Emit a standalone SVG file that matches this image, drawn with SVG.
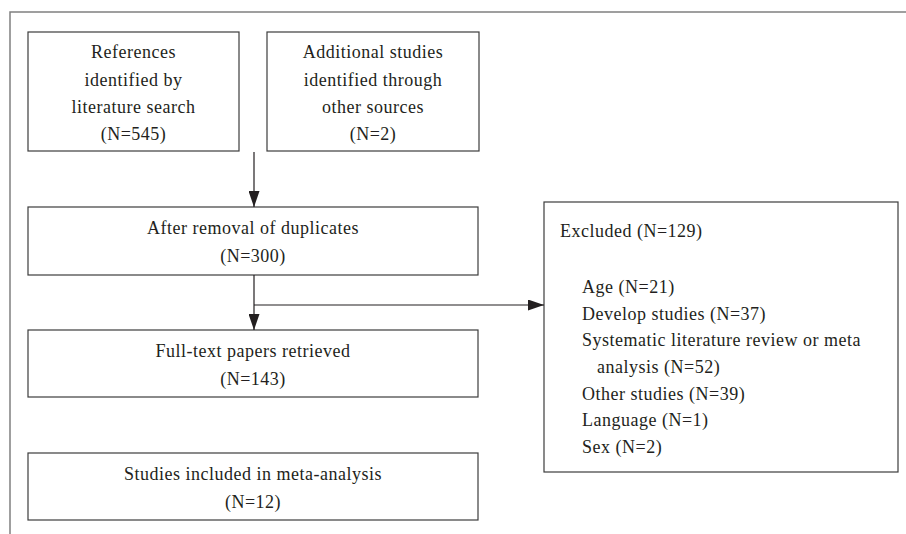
<svg xmlns="http://www.w3.org/2000/svg" width="906" height="534" viewBox="0 0 906 534">
<style>
.box{fill:#fff;stroke:#3c3c3c;stroke-width:1.2}
.frame{fill:none;stroke:#808080;stroke-width:1.5}
.t{font-family:"Liberation Serif","Times New Roman",serif;font-size:18px;letter-spacing:0.5px;fill:#231f20}
.c{text-anchor:middle}
.edge{fill:none;stroke:#231f20;stroke-width:1.2}
</style>
<defs>
<marker id="ah" markerUnits="userSpaceOnUse" markerWidth="16" markerHeight="11" refX="16" refY="5.5" orient="auto">
<path d="M0,0 L16,5.5 L0,11 z" fill="#231f20"/>
</marker>
</defs>
<rect width="906" height="534" fill="#fff"/>
<path class="frame" d="M10,534 V12 H906"/>
<g id="n1">
<rect class="box" x="28" y="32" width="211" height="119"/>
<text class="t c" x="133.5" y="58">References</text>
<text class="t c" x="133.5" y="86">identified by</text>
<text class="t c" x="133.5" y="113">literature search</text>
<text class="t c" x="133.5" y="140">(N=545)</text>
</g>
<g id="n2">
<rect class="box" x="267" y="32" width="212" height="119"/>
<text class="t c" x="373" y="58">Additional studies</text>
<text class="t c" x="373" y="86">identified through</text>
<text class="t c" x="373" y="113">other sources</text>
<text class="t c" x="373" y="140">(N=2)</text>
</g>
<g id="n3">
<rect class="box" x="28" y="207" width="450" height="68"/>
<text class="t c" x="253" y="234">After removal of duplicates</text>
<text class="t c" x="253" y="262">(N=300)</text>
</g>
<g id="n4">
<rect class="box" x="28" y="330" width="450" height="67"/>
<text class="t c" x="253" y="357">Full-text papers retrieved</text>
<text class="t c" x="253" y="385">(N=143)</text>
</g>
<g id="n5">
<rect class="box" x="28" y="453" width="450" height="67"/>
<text class="t c" x="253" y="480">Studies included in meta-analysis</text>
<text class="t c" x="253" y="508">(N=12)</text>
</g>
<g id="n6">
<rect class="box" x="544" y="202" width="354" height="270"/>
<text class="t" x="560" y="237">Excluded (N=129)</text>
<text class="t" x="582" y="293">Age (N=21)</text>
<text class="t" x="582" y="320">Develop studies (N=37)</text>
<text class="t" x="582" y="346">Systematic literature review or meta</text>
<text class="t" x="597" y="373">analysis (N=52)</text>
<text class="t" x="582" y="400">Other studies (N=39)</text>
<text class="t" x="582" y="426">Language (N=1)</text>
<text class="t" x="582" y="453">Sex (N=2)</text>
</g>
<g id="edges">
<line class="edge" x1="254" y1="152" x2="254" y2="207" marker-end="url(#ah)"/>
<line class="edge" x1="254" y1="275" x2="254" y2="330" marker-end="url(#ah)"/>
<line class="edge" x1="254" y1="305" x2="544" y2="305" marker-end="url(#ah)"/>
</g>
</svg>
